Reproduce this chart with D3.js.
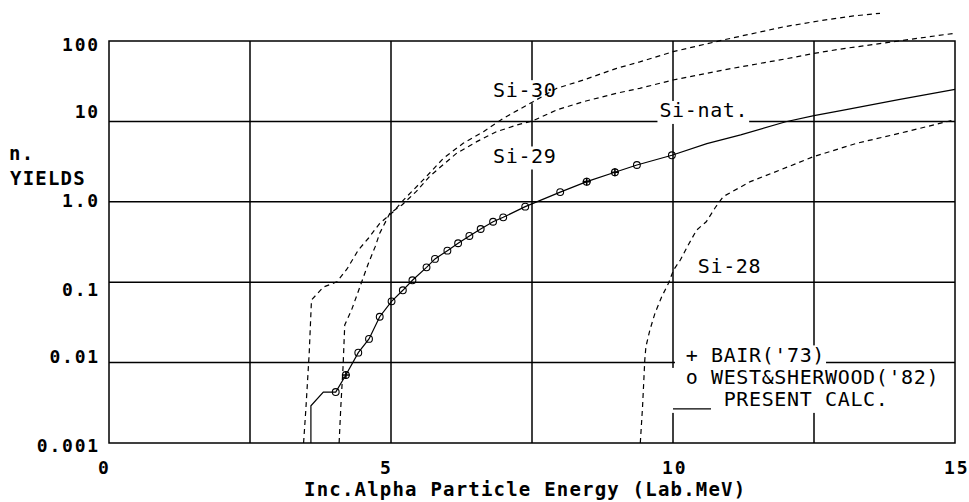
<!DOCTYPE html>
<html>
<head>
<meta charset="utf-8">
<script src="https://cdn.jsdelivr.net/npm/d3@7"></script>
<style>
  body { margin: 0; background: #fff; }
  svg { display: block; background: #fff; }
  text { font-family: 'DejaVu Sans Mono', 'Liberation Mono', monospace; fill: #000; }
  .tick-lbl { font-size: 18px; font-weight: bold; letter-spacing: 1.8px; }
  .axis-lbl { font-size: 19px; font-weight: bold; letter-spacing: 1.2px; }
  .note { font-size: 20px; letter-spacing: 0.63px; }
</style>
</head>
<body>
<svg id="root" width="969" height="502"></svg>
<script>
var d3 = window.d3

const width = 969
const height = 502

// axis ticks
const xTicks = [0, 5, 10, 15]
const xGrid = [2.5, 5, 7.5, 10, 12.5]
const yTicks = [100, 10, 1, 0.1, 0.01, 0.001]
const yTickLabels = ['100', '10', '1.0', '0.1', '0.01', '0.001']

// present calc. for natural silicon (solid)
const siNat = [
  [3.58, 0.001], [3.58, 0.0029], [3.80, 0.0043], [4.02, 0.0043], [4.20, 0.0070],
  [4.42, 0.0133], [4.61, 0.0197], [4.80, 0.0372], [5.01, 0.0578], [5.21, 0.0793],
  [5.38, 0.1056], [5.63, 0.153], [5.78, 0.195], [6.00, 0.247], [6.19, 0.305],
  [6.39, 0.376], [6.59, 0.459], [6.81, 0.565], [6.99, 0.641], [7.38, 0.87],
  [8.00, 1.32], [8.47, 1.78], [8.97, 2.33], [9.36, 2.87], [9.98, 3.79],
  [10.6, 5.3], [11.2, 6.8], [12.0, 9.9], [12.5, 11.8], [13.0, 13.7],
  [14.0, 18.7], [15.0, 25]
]

// isotopes (dashed)
const si30 = [
  [3.45, 0.001], [3.49, 0.0026], [3.55, 0.0132], [3.59, 0.060], [3.80, 0.087],
  [4.04, 0.101], [4.22, 0.146], [4.42, 0.251], [4.60, 0.352], [4.80, 0.54],
  [5.04, 0.753], [5.22, 1.05], [5.57, 1.87], [5.93, 3.48], [6.28, 5.34],
  [6.64, 7.45], [6.99, 10.9], [7.52, 17.6], [7.94, 25.8], [8.41, 32.7],
  [9.00, 45.7], [9.41, 55], [10.0, 73.6], [10.89, 103], [11.96, 150],
  [12.61, 179], [13.2, 205], [13.67, 221]
]
const si29 = [
  [4.08, 0.001], [4.11, 0.0028], [4.15, 0.0089], [4.18, 0.0294], [4.30, 0.045],
  [4.45, 0.088], [4.60, 0.172], [4.72, 0.277], [4.80, 0.406], [4.98, 0.72],
  [5.2, 0.92], [5.45, 1.35], [5.69, 2.09], [6.16, 4.0], [6.52, 5.6],
  [6.87, 7.45], [7.23, 9.0], [7.52, 10.2], [7.94, 13.9], [8.41, 17.6],
  [9.00, 22.4], [9.41, 25.8], [10.0, 32.7], [11, 45], [12, 60],
  [12.49, 70], [13, 80], [14, 100], [15, 125]
]
const si28 = [
  [9.42, 0.001], [9.46, 0.0028], [9.50, 0.0108], [9.52, 0.0158], [9.59, 0.0254],
  [9.68, 0.041], [9.80, 0.066], [9.92, 0.097], [10.01, 0.142], [10.13, 0.189],
  [10.27, 0.29], [10.42, 0.446], [10.59, 0.565], [10.75, 0.85], [10.89, 1.16],
  [11.37, 1.78], [11.9, 2.49], [12.49, 3.64], [13.26, 5.35], [14.14, 7.45],
  [14.97, 10.4]
]

// measurements
const westSherwood = [
  [4.02, 0.0043], [4.20, 0.0070], [4.42, 0.0133], [4.61, 0.0197], [4.80, 0.0372],
  [5.01, 0.0578], [5.21, 0.0793], [5.38, 0.1056], [5.63, 0.153], [5.78, 0.195],
  [6.00, 0.247], [6.19, 0.305], [6.39, 0.376], [6.59, 0.459], [6.81, 0.565],
  [6.99, 0.641], [7.38, 0.87], [8.00, 1.32], [8.47, 1.78], [8.97, 2.33],
  [9.36, 2.87], [9.98, 3.79]
]
const bair = [[4.20, 0.0070], [8.47, 1.78], [8.97, 2.33]]

const svg = d3.select('#root')

const xScale = d3.scaleLinear().domain([0, 15]).range([109, 955])
const yScale = d3.scaleLog().domain([0.001, 100]).range([443, 41])

const line = d3.line()
  .x(d => xScale(d[0]))
  .y(d => yScale(d[1]))

// grid
svg.append('g')
  .selectAll('line')
  .data(xGrid)
  .enter()
  .append('line')
  .attr('x1', d => xScale(d)).attr('x2', d => xScale(d))
  .attr('y1', yScale(0.001)).attr('y2', yScale(100))
  .attr('stroke', '#000').attr('stroke-width', 1.5)

svg.append('g')
  .selectAll('line')
  .data(yTicks.slice(1, -1))
  .enter()
  .append('line')
  .attr('x1', xScale(0)).attr('x2', xScale(15))
  .attr('y1', d => yScale(d)).attr('y2', d => yScale(d))
  .attr('stroke', '#000').attr('stroke-width', 1.5)

svg.append('rect')
  .attr('x', xScale(0)).attr('y', yScale(100))
  .attr('width', xScale(15) - xScale(0))
  .attr('height', yScale(0.001) - yScale(100))
  .attr('fill', 'none').attr('stroke', '#000').attr('stroke-width', 1.5)

// tick labels (old plotter placed them a bit off the lines)
const yLabelDy = [9.7, -3, 5.6, 14, 0, 8.7]
svg.append('g')
  .selectAll('text')
  .data(yTicks)
  .enter()
  .append('text')
  .attr('class', 'tick-lbl')
  .attr('text-anchor', 'end')
  .attr('x', 100)
  .attr('y', (d, i) => yScale(d) + yLabelDy[i])
  .text((d, i) => yTickLabels[i])

svg.append('g')
  .selectAll('text')
  .data(xTicks)
  .enter()
  .append('text')
  .attr('class', 'tick-lbl')
  .attr('x', d => xScale(d) - 11)
  .attr('y', 474)
  .text(d => d)

svg.append('text').attr('class', 'axis-lbl')
  .attr('x', 304).attr('y', 496)
  .text('Inc.Alpha Particle Energy (Lab.MeV)')
svg.append('text').attr('class', 'axis-lbl')
  .attr('x', 9).attr('y', 160).text('n.')
svg.append('text').attr('class', 'axis-lbl')
  .attr('x', 10).attr('y', 185).text('YIELDS')

// labels with white boxes
const charW = 12.67
function note (x, y, str, pad) {
  svg.append('rect')
    .attr('x', x - (pad || 2)).attr('y', y - 16.5)
    .attr('width', str.length * charW + 3 + (pad || 2) - 2).attr('height', 23)
    .attr('fill', '#fff')
  svg.append('text').attr('class', 'note')
    .attr('x', x).attr('y', y)
    .text(str)
}

note(xScale(6.81), yScale(20.3), 'Si-30')
note(xScale(6.81), yScale(3.04), 'Si-29')
note(xScale(9.76), yScale(11.2), 'Si-nat.')
note(xScale(10.44), yScale(0.13), 'Si-28')

// legend
const lgX = xScale(10)
const lgY = yScale(0.01) - 0.7
note(lgX + charW, lgY, '+ BAIR(\'73)', 10.7)
note(lgX + charW, lgY + 22.5, 'o WEST&SHERWOOD(\'82)', 14.7)
note(lgX + 4 * charW, lgY + 44.5, 'PRESENT CALC.', 4 * charW + 2)
svg.append('line')
  .attr('x1', lgX).attr('x2', lgX + 3 * charW)
  .attr('y1', lgY + 47).attr('y2', lgY + 47)
  .attr('stroke', '#000').attr('stroke-width', 1.3)

// curves
const curves = [
  { data: si30, dash: '5,4' },
  { data: si29, dash: '5,4' },
  { data: si28, dash: '5,4' },
  { data: siNat, dash: null }
]
svg.append('g')
  .selectAll('path')
  .data(curves)
  .enter()
  .append('path')
  .attr('d', d => line(d.data))
  .attr('fill', 'none')
  .attr('stroke', '#000')
  .attr('stroke-width', 1.2)
  .attr('stroke-dasharray', d => d.dash)

// markers
svg.append('g')
  .selectAll('circle')
  .data(westSherwood)
  .enter()
  .append('circle')
  .attr('cx', d => xScale(d[0]))
  .attr('cy', d => yScale(d[1]))
  .attr('r', 3.4)
  .attr('fill', 'none')
  .attr('stroke', '#000')
  .attr('stroke-width', 1.1)

svg.append('g')
  .selectAll('path')
  .data(bair)
  .enter()
  .append('path')
  .attr('d', d => {
    const cx = xScale(d[0])
    const cy = yScale(d[1])
    return `M${cx - 4},${cy}H${cx + 4}M${cx},${cy - 4}V${cy + 4}`
  })
  .attr('stroke', '#000')
  .attr('stroke-width', 1.6)
</script>
</body>
</html>
